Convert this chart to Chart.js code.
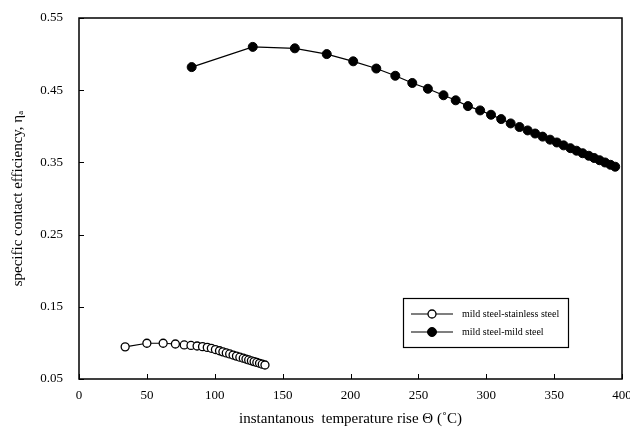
<!DOCTYPE html>
<html>
<head>
<meta charset="utf-8">
<script src="https://cdn.jsdelivr.net/npm/chart.js@4/dist/chart.umd.min.js"></script>
<style>
  html, body { margin: 0; padding: 0; background: #fff; }
  #c { display: block; }
</style>
</head>
<body>
<canvas id="c" width="630" height="432"></canvas>
<script>
// mild steel - stainless steel (open circles)
const stainlessX = [34, 50, 62, 71, 77.5, 82.5, 87, 91, 94.5, 97.5, 100.5, 103.5, 106, 108.5, 111, 113.5, 116, 118.5, 121, 123, 125, 127, 129, 131, 133, 135, 137];
const stainlessY = [0.0945, 0.0995, 0.0995, 0.0985, 0.0972, 0.0965, 0.0957, 0.0948, 0.0938, 0.0925, 0.0908, 0.0891, 0.0876, 0.0861, 0.0847, 0.0832, 0.0817, 0.0802, 0.0788, 0.0776, 0.0764, 0.0752, 0.0741, 0.0729, 0.0717, 0.0705, 0.0694];

// mild steel - mild steel (filled circles)
const mildX = [83, 128, 159, 182.5, 202, 219, 233, 245.5, 257, 268.5, 277.5, 286.5, 295.5, 303.5, 311, 318, 324.5, 330.5, 336, 341.5, 347, 352, 357, 362, 366.5, 371, 375.5, 379.5, 383.5, 387.5, 391.5, 395];
const mildY = [0.482, 0.510, 0.508, 0.500, 0.490, 0.480, 0.470, 0.460, 0.452, 0.443, 0.436, 0.428, 0.422, 0.416, 0.410, 0.404, 0.399, 0.3943, 0.3900, 0.3857, 0.3815, 0.3776, 0.3736, 0.3697, 0.3662, 0.3627, 0.3592, 0.3561, 0.3530, 0.3499, 0.3467, 0.3440];

const seriesNames = ['mild steel-stainless steel', 'mild steel-mild steel'];
const xTicks = [0, 50, 100, 150, 200, 250, 300, 350, 400];
const yTicks = [0.05, 0.15, 0.25, 0.35, 0.45, 0.55];

const serif = '"Liberation Serif", "DejaVu Serif", serif';

function toPoints(xs, ys) {
  return xs.map((x, i) => ({ x: x, y: ys[i] }));
}

// frame, inward ticks and the boxed legend
const framePlugin = {
  id: 'frame',
  afterDraw(chart) {
    const ctx = chart.ctx;
    const a = chart.chartArea;
    const xs = chart.scales.x, ys = chart.scales.y;
    ctx.save();
    ctx.strokeStyle = '#000';
    ctx.lineWidth = 1.5;
    ctx.strokeRect(a.left, a.top, a.right - a.left, a.bottom - a.top);
    ctx.lineWidth = 1;
    ctx.beginPath();
    xTicks.forEach(v => {
      const px = Math.round(xs.getPixelForValue(v)) + 0.5;
      ctx.moveTo(px, a.bottom); ctx.lineTo(px, a.bottom - 5);
    });
    yTicks.forEach(v => {
      const py = Math.round(ys.getPixelForValue(v)) + 0.5;
      ctx.moveTo(a.left, py); ctx.lineTo(a.left + 5, py);
    });
    ctx.stroke();

    // legend box
    const bx = 403, by = 298, bw = 165, bh = 49;
    ctx.lineWidth = 1.2;
    ctx.strokeRect(bx + 0.5, by + 0.5, bw, bh);
    ctx.font = '10px ' + serif;
    ctx.textBaseline = 'middle';
    ctx.fillStyle = '#000';
    chart.data.datasets.forEach((ds, i) => {
      const yy = by + 16 + i * 18;
      ctx.beginPath();
      ctx.lineWidth = 1.2;
      ctx.moveTo(bx + 8, yy); ctx.lineTo(bx + 50, yy);
      ctx.stroke();
      ctx.beginPath();
      ctx.arc(bx + 29, yy, ds.pointRadius, 0, Math.PI * 2);
      ctx.fillStyle = ds.pointBackgroundColor;
      ctx.fill();
      ctx.lineWidth = ds.pointBorderWidth;
      ctx.stroke();
      ctx.fillStyle = '#000';
      ctx.fillText(ds.label, bx + 59, yy);
    });
    ctx.restore();
  }
};

new Chart(document.getElementById('c'), {
  type: 'scatter',
  data: {
    datasets: [
      {
        label: seriesNames[0],
        data: toPoints(stainlessX, stainlessY),
        showLine: true,
        borderColor: '#000',
        borderWidth: 1.2,
        pointRadius: 4,
        pointBackgroundColor: '#fff',
        pointBorderColor: '#000',
        pointBorderWidth: 1.3
      },
      {
        label: seriesNames[1],
        data: toPoints(mildX, mildY),
        showLine: true,
        borderColor: '#000',
        borderWidth: 1.2,
        pointRadius: 4.5,
        pointBackgroundColor: '#000',
        pointBorderColor: '#000',
        pointBorderWidth: 1
      }
    ]
  },
  options: {
    responsive: false,
    animation: false,
    layout: { padding: { top: 18, right: 8, left: 0, bottom: 0 } },
    plugins: {
      legend: { display: false },
      tooltip: { enabled: false }
    },
    scales: {
      x: {
        type: 'linear',
        min: 0,
        max: 400,
        afterBuildTicks(scale) { scale.ticks = xTicks.map(v => ({ value: v })); },
        afterFit(scale) { scale.height = 53; scale.paddingRight = 0; scale.paddingLeft = 0; },
        grid: { display: false, drawTicks: false },
        border: { display: false },
        ticks: { color: '#000', padding: 9, font: { family: serif, size: 13 }, maxRotation: 0 },
        title: {
          display: true,
          text: 'instantanous  temperature rise \u0398 (\u02DaC)',
          color: '#000',
          font: { family: serif, size: 15 },
          padding: { top: 2 }
        }
      },
      y: {
        type: 'linear',
        min: 0.05,
        max: 0.55,
        afterBuildTicks(scale) { scale.ticks = yTicks.map(v => ({ value: v })); },
        afterFit(scale) { scale.width = 79; scale.paddingTop = 0; scale.paddingBottom = 0; },
        grid: { display: false, drawTicks: false },
        border: { display: false },
        ticks: {
          color: '#000',
          padding: 16,
          font: { family: serif, size: 13 },
          callback: v => Number(v).toFixed(2)
        },
        title: {
          display: true,
          text: 'specific contact efficiency, \u03B7\u2090',
          color: '#000',
          font: { family: serif, size: 15 },
          padding: { top: 9, bottom: 2 }
        }
      }
    }
  },
  plugins: [framePlugin]
});
</script>
</body>
</html>
